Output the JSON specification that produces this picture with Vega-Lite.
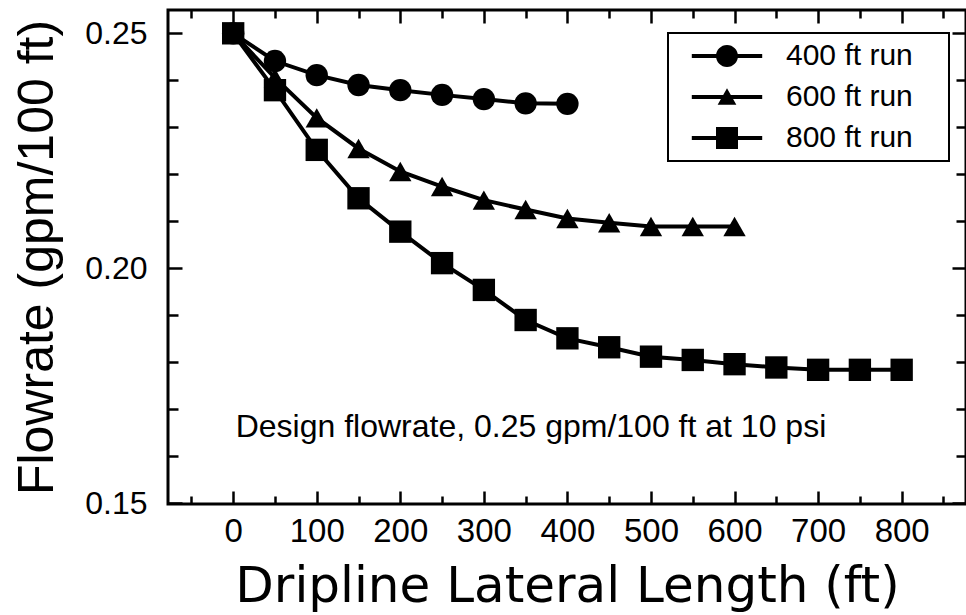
{
  "$schema": "https://vega.github.io/schema/vega-lite/v6.json",
  "description": "Flowrate along dripline laterals of 400, 600 and 800 ft runs.",
  "width": 798,
  "height": 494,
  "autosize": {"type": "none"},
  "padding": {"left": 168, "top": 10, "right": 0, "bottom": 111},
  "background": "white",
  "config": {
    "view": {"stroke": "black", "strokeWidth": 3},
    "font": "Liberation Sans",
    "legend": {"strokeWidth": 2},
    "axis": {
      "grid": false, "domain": false,
      "tickColor": "black", "tickWidth": 2.5,
      "labelColor": "black", "titleColor": "black",
      "labelFont": "Liberation Sans", "titleFont": "Liberation Sans",
      "titleFontWeight": "normal", "labelOverlap": false
    }
  },
  "data": {
    "values": [
      {"series": "400 ft run", "length": 0, "flow": 0.2500},
      {"series": "400 ft run", "length": 50, "flow": 0.2441},
      {"series": "400 ft run", "length": 100, "flow": 0.2411},
      {"series": "400 ft run", "length": 150, "flow": 0.2390},
      {"series": "400 ft run", "length": 200, "flow": 0.2379},
      {"series": "400 ft run", "length": 250, "flow": 0.2369},
      {"series": "400 ft run", "length": 300, "flow": 0.2360},
      {"series": "400 ft run", "length": 350, "flow": 0.2351},
      {"series": "400 ft run", "length": 400, "flow": 0.2350},
      {"series": "600 ft run", "length": 0, "flow": 0.2500},
      {"series": "600 ft run", "length": 50, "flow": 0.2405},
      {"series": "600 ft run", "length": 100, "flow": 0.2320},
      {"series": "600 ft run", "length": 150, "flow": 0.2255},
      {"series": "600 ft run", "length": 200, "flow": 0.2206},
      {"series": "600 ft run", "length": 250, "flow": 0.2174},
      {"series": "600 ft run", "length": 300, "flow": 0.2145},
      {"series": "600 ft run", "length": 350, "flow": 0.2125},
      {"series": "600 ft run", "length": 400, "flow": 0.2106},
      {"series": "600 ft run", "length": 450, "flow": 0.2097},
      {"series": "600 ft run", "length": 500, "flow": 0.2089},
      {"series": "600 ft run", "length": 550, "flow": 0.2089},
      {"series": "600 ft run", "length": 600, "flow": 0.2089},
      {"series": "800 ft run", "length": 0, "flow": 0.2500},
      {"series": "800 ft run", "length": 50, "flow": 0.2379},
      {"series": "800 ft run", "length": 100, "flow": 0.2252},
      {"series": "800 ft run", "length": 150, "flow": 0.2149},
      {"series": "800 ft run", "length": 200, "flow": 0.2078},
      {"series": "800 ft run", "length": 250, "flow": 0.2011},
      {"series": "800 ft run", "length": 300, "flow": 0.1954},
      {"series": "800 ft run", "length": 350, "flow": 0.1890},
      {"series": "800 ft run", "length": 400, "flow": 0.1851},
      {"series": "800 ft run", "length": 450, "flow": 0.1832},
      {"series": "800 ft run", "length": 500, "flow": 0.1812},
      {"series": "800 ft run", "length": 550, "flow": 0.1805},
      {"series": "800 ft run", "length": 600, "flow": 0.1796},
      {"series": "800 ft run", "length": 650, "flow": 0.1789},
      {"series": "800 ft run", "length": 700, "flow": 0.1784},
      {"series": "800 ft run", "length": 750, "flow": 0.1784},
      {"series": "800 ft run", "length": 800, "flow": 0.1784}
    ]
  },
  "layer": [
    {
      "mark": {"type": "line", "color": "black", "strokeWidth": 4},
      "encoding": {
        "x": {
          "field": "length", "type": "quantitative",
          "scale": {"domain": [-78, 877], "nice": false, "zero": false},
          "axis": {
            "orient": "bottom",
            "values": [-50, 0, 50, 100, 150, 200, 250, 300, 350, 400, 450, 500, 550, 600, 650, 700, 750, 800, 850],
            "labelExpr": "datum.value % 100 === 0 ? datum.label : ''",
            "tickSize": {"condition": {"test": "datum.value % 100 === 0", "value": -13}, "value": -8},
            "labelPadding": 24,
            "labelFontSize": 33,
            "title": "Dripline Lateral Length (ft)",
            "titleFont": "DejaVu Sans",
            "titleFontSize": 50,
            "titleBaseline": "alphabetic",
            "titleY": 97
          }
        },
        "y": {
          "field": "flow", "type": "quantitative",
          "scale": {"domain": [0.14985, 0.25496], "nice": false, "zero": false},
          "axis": {
            "orient": "left",
            "values": [0.15, 0.16, 0.17, 0.18, 0.19, 0.2, 0.21, 0.22, 0.23, 0.24, 0.25],
            "labelExpr": "round(datum.value * 100) % 5 === 0 ? format(datum.value, '.2f') : ''",
            "tickSize": {"condition": {"test": "round(datum.value * 100) % 5 === 0", "value": -14}, "value": -10},
            "labelPadding": 35,
            "labelFontSize": 32,
            "title": "Flowrate (gpm/100 ft)",
            "titleFontSize": 50,
            "titleBaseline": "alphabetic",
            "titleX": -116
          }
        },
        "detail": {"field": "series"}
      }
    },
    {
      "mark": {"type": "point", "filled": true, "opacity": 1, "size": 500},
      "encoding": {
        "x": {
          "field": "length", "type": "quantitative",
          "scale": {"domain": [-78, 877], "nice": false, "zero": false},
          "axis": {
            "orient": "top",
            "values": [-50, 0, 50, 100, 150, 200, 250, 300, 350, 400, 450, 500, 550, 600, 650, 700, 750, 800, 850],
            "labels": false,
            "tickSize": {"condition": {"test": "datum.value % 100 === 0", "value": -13}, "value": -8},
            "title": null
          }
        },
        "y": {
          "field": "flow", "type": "quantitative",
          "scale": {"domain": [0.14985, 0.25496], "nice": false, "zero": false},
          "axis": {
            "orient": "right",
            "values": [0.15, 0.16, 0.17, 0.18, 0.19, 0.2, 0.21, 0.22, 0.23, 0.24, 0.25],
            "labels": false,
            "tickSize": {"condition": {"test": "round(datum.value * 100) % 5 === 0", "value": -14}, "value": -10},
            "title": null
          }
        },
        "shape": {
          "field": "series", "type": "nominal",
          "scale": {"range": ["circle", "triangle-up", "square"]},
          "legend": null
        },
        "color": {
          "field": "series", "type": "nominal",
          "scale": {"domain": ["400 ft run", "600 ft run", "800 ft run"], "range": ["black", "black", "black"]},
          "legend": {
            "orient": "none",
            "legendX": 500,
            "legendY": 23,
            "title": null,
            "padding": 8,
            "strokeColor": "black",
            "symbolSize": 484,
            "symbolStrokeWidth": 0,
            "symbolOffset": 36,
            "labelOffset": 44,
            "labelFont": "Liberation Sans",
            "labelFontSize": 30,
            "labelColor": "black",
            "rowPadding": 11,
            "symbolType": {"expr": "datum.value === '400 ft run' ? 'M19.4,0M-3.2,-0.18H-0.9V0.18H-3.2ZM0.9,-0.18H3.2V0.18H0.9ZM-1,0A1,1 0 1,1 1,0A1,1 0 1,1 -1,0Z' : datum.value === '600 ft run' ? 'M19.4,0M-3.2,-0.18H3.2V0.18H-3.2ZM0,-0.8L0.85,0.7H-0.85Z' : 'M19.4,0M-3.2,-0.18H3.2V0.18H-3.2ZM-1,-1H1V1H-1Z'"}
          }
        }
      }
    },
    {
      "data": {"values": [{"note": "Design flowrate, 0.25 gpm/100 ft at 10 psi"}]},
      "mark": {"type": "text", "align": "left", "baseline": "alphabetic", "fontSize": 32, "font": "Liberation Sans", "color": "black"},
      "encoding": {
        "x": {"datum": 3, "type": "quantitative", "scale": {"domain": [-78, 877], "nice": false, "zero": false}, "axis": null},
        "y": {"datum": 0.16417, "type": "quantitative", "scale": {"domain": [0.14985, 0.25496], "nice": false, "zero": false}, "axis": null},
        "text": {"field": "note"}
      }
    }
  ],
  "resolve": {"axis": {"x": "independent", "y": "independent"}}
}
